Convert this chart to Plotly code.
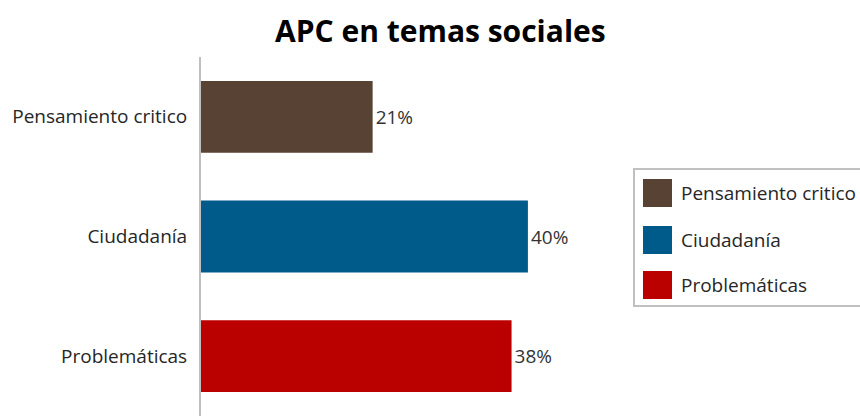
import plotly.graph_objects as go

# Data
categories = ["Pensamiento critico", "Ciudadanía", "Problemáticas"]
values = [21, 40, 38]
labels = ["21%", "40%", "38%"]
colors = ["#574234", "#005a8a", "#bb0000"]

W, H = 860, 416
FONT = "Open Sans"
FS = 19

# pixel -> paper helpers (margins are zero, so paper == figure)
def px(x):
    return x / W

def py(y):
    return 1 - y / H

fig = go.Figure()
fig.add_trace(go.Bar(
    y=categories,
    x=values,
    orientation="h",
    marker=dict(color=colors, line=dict(width=0)),
    width=0.6,
    text=labels,
    textposition="outside",
    textfont=dict(family=FONT, size=FS, color="#333333"),
    cliponaxis=False,
    showlegend=False,
    hoverinfo="skip",
))

# Legend box drawn by hand with large square swatches
shapes = [dict(type="rect", xref="paper", yref="paper",
               x0=px(634), x1=px(875), y0=py(306), y1=py(169),
               line=dict(color="#c0c0c0", width=2), fillcolor="white", layer="above")]
annotations = []
sw_tops = [179, 226, 271]
for cat, col, top in zip(categories, colors, sw_tops):
    shapes.append(dict(type="rect", xref="paper", yref="paper",
                       x0=px(643), x1=px(672), y0=py(top + 28), y1=py(top),
                       line=dict(width=0), fillcolor=col, layer="above"))
    annotations.append(dict(xref="paper", yref="paper", x=px(679), y=py(top + 14),
                            xanchor="left", yanchor="middle", showarrow=False,
                            text=cat, font=dict(family=FONT, size=FS, color="#262626")))

annotations.append(dict(xref="paper", yref="paper", x=px(440), y=py(31),
                        xanchor="center", yanchor="middle", showarrow=False,
                        text="<b>APC en temas sociales</b>",
                        font=dict(family=FONT, size=30, color="#000000")))

fig.update_layout(
    width=W, height=H,
    margin=dict(l=0, r=0, t=0, b=0),
    paper_bgcolor="white", plot_bgcolor="white",
    font=dict(family=FONT, size=FS, color="#262626"),
    shapes=shapes,
    annotations=annotations,
    xaxis=dict(domain=[px(201), px(608)], range=[0, 49.8], visible=False,
               showgrid=False, zeroline=False, fixedrange=True),
    yaxis=dict(domain=[0, py(57)], type="category",
               categoryorder="array", categoryarray=categories,
               range=[2.5, -0.5], showgrid=False, zeroline=False,
               showline=True, linecolor="#c0c0c0", linewidth=2,
               ticks="", ticklabelstandoff=8,
               tickfont=dict(family=FONT, size=FS, color="#262626"),
               automargin=False, fixedrange=True),
    bargap=0.4,
)

fig.write_html("out.html")
